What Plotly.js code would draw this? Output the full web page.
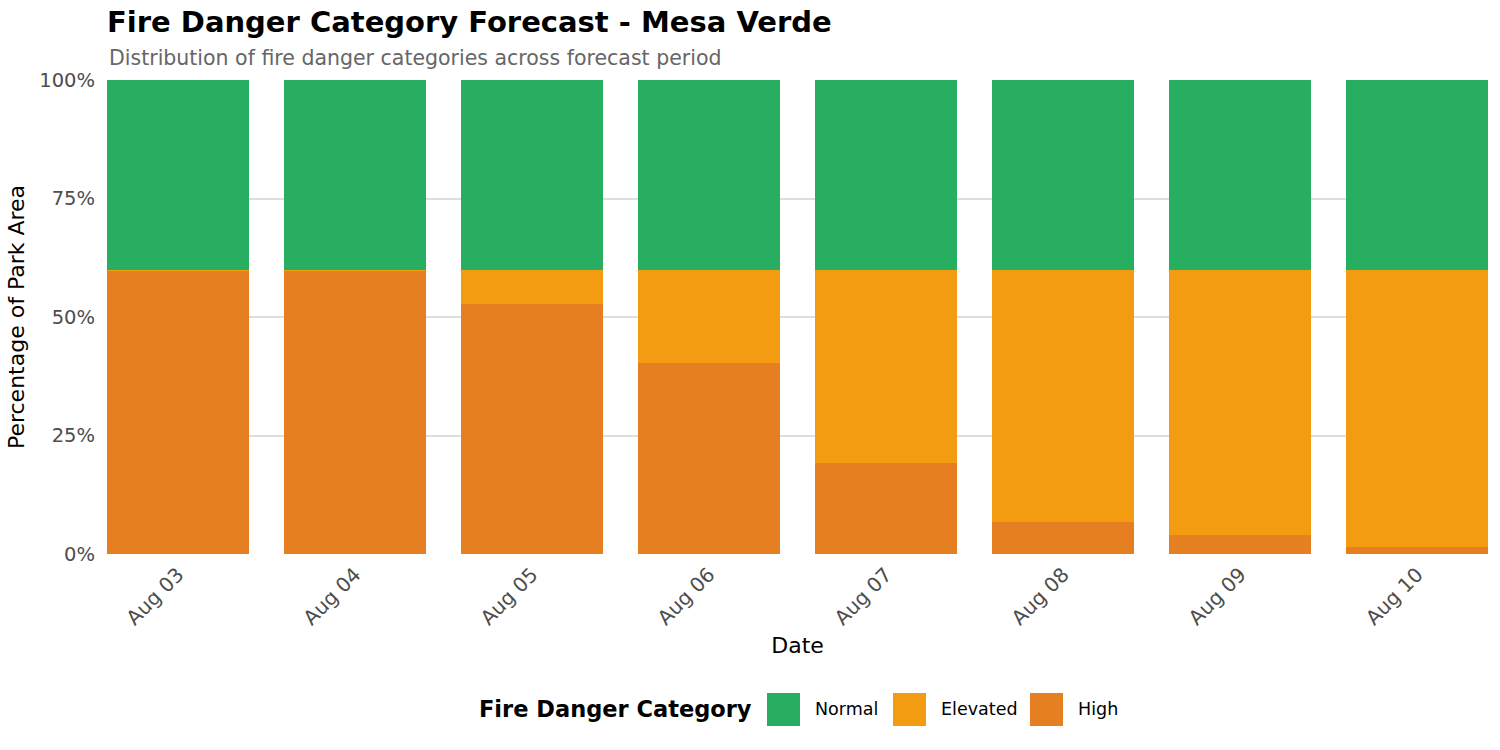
<!DOCTYPE html>
<html>
<head>
<meta charset="utf-8">
<script src="https://cdn.plot.ly/plotly-3.0.1.min.js"></script>
<style>
  body { margin: 0; background: #fff; }
  #chart { width: 1500px; height: 750px; }
</style>
</head>
<body>
<div id="chart"></div>
<script>
  // percentages of park area per day
  var dates = ["Aug 03", "Aug 04", "Aug 05", "Aug 06", "Aug 07", "Aug 08", "Aug 09", "Aug 10"];
  var high = [59.8, 59.8, 52.7, 40.3, 19.3, 6.7, 4.1, 1.5];
  var elevated = [0.2, 0.2, 7.3, 19.7, 40.7, 53.3, 55.9, 58.5];
  var normal = [40, 40, 40, 40, 40, 40, 40, 40];
  var categories = ["Normal", "Elevated", "High"];

  var colors = { Normal: "#27AE60", Elevated: "#F39C12", High: "#E67E22" };

  function bar(name, vals) {
    return {
      type: "bar",
      name: name,
      x: dates,
      y: vals,
      marker: { color: colors[name], line: { width: 0 } },
      showlegend: false,
      hoverinfo: "x+y+name"
    };
  }

  var traces = [bar("High", high), bar("Elevated", elevated), bar("Normal", normal)];

  var font = "DejaVu Sans, sans-serif";

  // pixel -> paper helpers (plot area is 107..1488 x 80..554)
  function px(x) { return (x - 107) / 1381; }
  function py(y) { return (554 - y) / 474; }

  // legend drawn by hand so the keys can be big squares like the original
  var shapes = [];
  var annotations = [{
    text: "Distribution of fire danger categories across forecast period",
    xref: "paper", yref: "paper",
    x: 0, xanchor: "left",
    y: py(58), yanchor: "middle",
    showarrow: false,
    font: { size: 20.5, color: "#666" }
  }, {
    text: "<b>Fire Danger Category</b>",
    xref: "paper", yref: "paper",
    x: px(477), xanchor: "left",
    y: py(709), yanchor: "middle",
    showarrow: false,
    font: { size: 22.5, color: "#000" }
  }];
  var keyX = [767, 893, 1030];
  categories.forEach(function (c, i) {
    shapes.push({
      type: "rect", xref: "paper", yref: "paper",
      x0: px(keyX[i]), x1: px(keyX[i] + 33),
      y0: py(726), y1: py(693),
      fillcolor: colors[c], line: { width: 0 }
    });
    annotations.push({
      text: c, xref: "paper", yref: "paper",
      x: px(keyX[i] + 46), xanchor: "left",
      y: py(709), yanchor: "middle",
      showarrow: false,
      font: { size: 17.5, color: "#000" }
    });
  });

  Plotly.newPlot("chart", traces, {
    width: 1500,
    height: 750,
    barmode: "stack",
    bargap: 0.2,
    showlegend: false,
    paper_bgcolor: "#fff",
    plot_bgcolor: "#fff",
    font: { family: font, color: "#000" },
    margin: { l: 107, r: 12, t: 80, b: 196 },
    title: {
      text: "<b>Fire Danger Category Forecast - Mesa Verde</b>",
      font: { size: 29, color: "#000" },
      x: 0, xanchor: "left", xref: "paper",
      y: 1 - 22 / 750, yanchor: "middle", yref: "container"
    },
    shapes: shapes,
    annotations: annotations,
    xaxis: {
      range: [-0.4, 7.4],
      tickangle: -45,
      tickfont: { size: 20, color: "#4d4d4d" },
      ticklabelstandoff: 4,
      showgrid: false,
      zeroline: false,
      showline: false,
      ticks: "",
      title: { text: "Date", font: { size: 22, color: "#000" }, standoff: 8 }
    },
    yaxis: {
      range: [0, 100],
      tickvals: [0, 25, 50, 75, 100],
      ticktext: ["0%", "25%", "50%", "75%", "100%"],
      tickfont: { size: 19.5, color: "#4d4d4d" },
      ticklabelstandoff: 11,
      showgrid: true,
      gridcolor: "#dedede",
      gridwidth: 1.5,
      zeroline: false,
      ticks: "",
      title: { text: "Percentage of Park Area", font: { size: 22, color: "#000" }, standoff: 8 }
    }
  }, { displayModeBar: false });
</script>
</body>
</html>
